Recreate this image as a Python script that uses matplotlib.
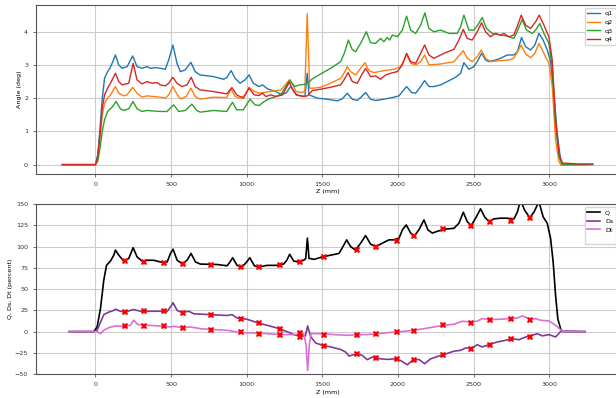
import matplotlib
matplotlib.use("Agg")
import matplotlib.pyplot as plt

# ---------------- top panel: angles (deg) ----------------
q1_z = [-220, -100, 0, 15, 30, 45, 60, 80, 95, 110,
        132, 154, 176, 209, 246, 275, 308, 341, 363, 396,
        429, 462, 484, 512, 539, 561, 593, 631, 659, 692,
        780, 846, 868, 897, 923, 956, 989, 1015, 1044, 1082,
        1104, 1138, 1182, 1227, 1260, 1290, 1330, 1385, 1400, 1412,
        1467, 1533, 1599, 1632, 1665, 1698, 1731, 1760, 1786, 1819,
        1852, 1907, 1963, 2007, 2030, 2057, 2090, 2117, 2150, 2176,
        2205, 2238, 2282, 2326, 2381, 2414, 2436, 2469, 2502, 2524,
        2553, 2579, 2601, 2645, 2678, 2722, 2766, 2790, 2817, 2844,
        2877, 2905, 2932, 2960, 2987, 3009, 3031, 3053, 3075, 3090,
        3180, 3285]
q1_v = [0.0, 0.0, 0.0, 0.3, 1.1, 2.0, 2.6, 2.8, 2.9, 3.05,
        3.3, 3.0, 2.9, 2.95, 3.27, 2.95, 2.9, 2.95, 2.9, 2.92,
        2.9, 2.87, 3.15, 3.6, 3.05, 2.8, 2.85, 3.08, 2.8, 2.7,
        2.65, 2.57, 2.62, 2.83, 2.6, 2.45, 2.55, 2.7, 2.45, 2.35,
        2.4, 2.28, 2.22, 2.12, 2.15, 2.35, 2.1, 2.05, 2.75, 2.1,
        2.0, 1.97, 1.92, 1.98, 2.15, 1.97, 1.93, 2.05, 2.17, 1.97,
        1.93, 1.97, 2.02, 2.07, 2.2, 2.35, 2.17, 2.15, 2.35, 2.53,
        2.35, 2.35, 2.4, 2.5, 2.63, 2.75, 3.07, 2.87, 2.95, 3.1,
        3.35, 3.15, 3.1, 3.15, 3.2, 3.3, 3.3, 3.4, 3.83, 3.55,
        3.45, 3.6, 3.95, 3.75, 3.45, 3.1, 2.15, 0.95, 0.15, 0.0,
        0.0, 0.0]

q2_z = [-220, -100, 0, 15, 30, 45, 60, 80, 99, 132,
        154, 187, 209, 246, 275, 308, 341, 429, 462, 484,
        512, 539, 561, 600, 631, 659, 692, 780, 868, 897,
        923, 956, 989, 1015, 1044, 1082, 1127, 1182, 1227, 1255,
        1282, 1305, 1327, 1360, 1384, 1400, 1416, 1440, 1489, 1555,
        1621, 1643, 1665, 1687, 1720, 1753, 1782, 1808, 1841, 1907,
        1973, 2018, 2057, 2084, 2117, 2150, 2176, 2205, 2282, 2370,
        2403, 2432, 2458, 2491, 2524, 2551, 2579, 2612, 2678, 2733,
        2766, 2815, 2844, 2877, 2905, 2932, 2965, 2998, 3020, 3042,
        3064, 3079, 3150, 3220]
q2_v = [0.0, 0.0, 0.0, 0.2, 0.8, 1.5, 1.85, 2.0, 2.1, 2.35,
        2.15, 2.07, 2.1, 2.33, 2.15, 2.03, 2.07, 2.03, 2.0, 2.1,
        2.35, 2.12, 1.98, 2.05, 2.3, 2.05, 1.97, 2.03, 2.02, 2.28,
        2.05, 2.0, 2.1, 2.33, 2.22, 2.15, 2.18, 2.22, 2.25, 2.4,
        2.55, 2.4, 2.2, 2.17, 2.2, 4.55, 2.3, 2.3, 2.33, 2.45,
        2.6, 2.75, 2.95, 2.8, 2.7, 2.9, 3.07, 2.83, 2.77, 2.83,
        2.87, 2.95, 3.32, 3.05, 3.0, 3.1, 3.3, 3.0, 3.03, 3.1,
        3.27, 3.43, 3.2, 3.1, 3.25, 3.45, 3.2, 3.1, 3.13, 3.15,
        3.2, 3.6, 3.33, 3.22, 3.35, 3.65, 3.35, 3.05, 2.35, 0.75,
        0.1, -0.02, 0.0, 0.0]

q3_z = [-220, -100, 0, 15, 30, 45, 60, 80, 110, 136,
        165, 187, 220, 248, 275, 308, 341, 429, 473, 517,
        550, 594, 637, 670, 692, 780, 868, 906, 934, 978,
        1022, 1055, 1082, 1116, 1149, 1193, 1227, 1255, 1285, 1316,
        1349, 1393, 1434, 1489, 1555, 1621, 1645, 1672, 1697, 1720,
        1753, 1791, 1819, 1852, 1885, 1907, 1929, 1946, 1963, 1996,
        2029, 2057, 2084, 2117, 2150, 2178, 2205, 2238, 2282, 2337,
        2392, 2414, 2436, 2469, 2502, 2528, 2557, 2585, 2623, 2678,
        2722, 2766, 2788, 2821, 2850, 2888, 2910, 2938, 2965, 2998,
        3020, 3042, 3064, 3086, 3170, 3251]
q3_v = [0.0, 0.0, 0.0, 0.1, 0.5, 1.0, 1.35, 1.6, 1.73, 1.9,
        1.68, 1.63, 1.68, 1.9, 1.68, 1.6, 1.63, 1.6, 1.6, 1.8,
        1.6, 1.63, 1.82, 1.63, 1.58, 1.63, 1.6, 1.88, 1.65, 1.65,
        1.97, 1.8, 1.78, 1.9, 1.98, 2.05, 2.12, 2.32, 2.55, 2.35,
        2.4, 2.42, 2.58, 2.73, 2.9, 3.1, 3.35, 3.75, 3.47, 3.4,
        3.65, 4.0, 3.67, 3.65, 3.8, 3.7, 3.83, 3.75, 3.9, 3.85,
        4.05, 4.47, 4.05, 3.95, 4.2, 4.57, 4.1, 4.0, 4.05, 3.95,
        3.95, 4.15, 4.5, 4.05, 4.05, 4.2, 4.43, 4.1, 3.95, 3.9,
        3.87, 3.8, 4.0, 4.37, 4.05, 3.95, 4.05, 4.25, 3.95, 3.65,
        2.95, 1.25, 0.25, 0.0, 0.0, 0.0]

q4_z = [-220, -100, 0, 15, 30, 45, 60, 80, 99, 132,
        154, 176, 220, 249, 275, 308, 341, 374, 407, 429,
        462, 484, 512, 539, 572, 605, 633, 659, 692, 780,
        868, 902, 934, 978, 1015, 1049, 1082, 1104, 1127, 1160,
        1193, 1238, 1260, 1282, 1305, 1327, 1371, 1401, 1434, 1489,
        1555, 1621, 1643, 1670, 1698, 1731, 1760, 1786, 1819, 1852,
        1885, 1918, 1951, 1996, 2029, 2057, 2084, 2117, 2150, 2176,
        2205, 2238, 2304, 2370, 2403, 2432, 2458, 2491, 2524, 2553,
        2579, 2612, 2645, 2678, 2700, 2733, 2766, 2788, 2815, 2844,
        2877, 2910, 2934, 2965, 2998, 3020, 3042, 3064, 3086, 3190,
        3290]
q4_v = [0.0, 0.0, 0.0, 0.25, 0.9, 1.7, 2.1, 2.3, 2.45, 2.75,
        2.5, 2.4, 2.45, 3.05, 2.55, 2.43, 2.5, 2.45, 2.47, 2.4,
        2.37, 2.45, 2.63, 2.45, 2.35, 2.4, 2.63, 2.35, 2.25, 2.2,
        2.13, 2.32, 2.1, 2.0, 2.3, 2.1, 2.08, 2.15, 2.05, 2.1,
        2.05, 2.1, 2.3, 2.48, 2.25, 2.1, 2.05, 2.07, 2.23, 2.27,
        2.33, 2.4, 2.55, 2.77, 2.5, 2.45, 2.7, 2.9, 2.65, 2.67,
        2.57, 2.7, 2.75, 2.8, 3.0, 3.35, 3.1, 3.05, 3.35, 3.6,
        3.3, 3.2, 3.35, 3.47, 3.75, 4.07, 3.8, 3.75, 4.0, 4.27,
        4.0, 3.85, 3.95, 3.9, 3.95, 3.85, 3.9, 4.15, 4.5, 4.2,
        4.1, 4.3, 4.5, 4.2, 3.85, 3.15, 1.35, 0.35, 0.05, 0.02,
        0.02]

# ---------------- bottom panel: Q, Ds, Dt (percent) ----------------
Q_z = [-172, -100, -11, 11, 33, 55, 73, 99, 121, 132,
       154, 187, 220, 249, 275, 308, 341, 385, 429, 474,
       496, 513, 540, 573, 606, 632, 661, 694, 804, 870,
       890, 907, 936, 969, 1000, 1020, 1051, 1079, 1134, 1200,
       1244, 1265, 1284, 1311, 1344, 1377, 1390, 1401, 1412, 1423,
       1445, 1500, 1555, 1610, 1636, 1661, 1687, 1720, 1753, 1786,
       1819, 1852, 1896, 1940, 1974, 2007, 2030, 2055, 2084, 2106,
       2139, 2172, 2198, 2227, 2260, 2304, 2370, 2403, 2432, 2458,
       2484, 2515, 2546, 2573, 2601, 2634, 2678, 2722, 2767, 2790,
       2811, 2837, 2872, 2900, 2932, 2960, 2987, 3009, 3026, 3042,
       3057, 3075, 3086, 3236]
Q_v = [0, 0, 0, 5.5, 27, 60.6, 78, 83, 90, 96,
       90, 83, 86, 98.8, 88, 83, 84, 84, 82, 82,
       92, 97, 84, 80, 84, 92, 82, 79.5, 79, 77.5,
       82, 87, 78, 76, 82, 87, 77.5, 76, 78, 78,
       79.5, 84, 91, 83, 82, 84, 86, 110, 86, 86,
       85, 88, 90, 92, 100, 108, 100, 96, 104, 113,
       103, 100, 104, 108, 108, 110, 120, 125.6, 116, 112,
       120, 131.5, 119.7, 116, 118, 120.5, 121.6, 127.5, 140.5, 129.5,
       124.8, 134, 144.5, 135, 129.5, 132.7, 133.5, 133.5, 132.7, 141,
       155, 143, 134, 141, 153, 135, 127.5, 110, 82, 43,
       15, 3.5, 0.4, 0]

Ds_z = [-172, -11, 11, 33, 55, 88, 121, 132, 165, 198,
        231, 253, 297, 385, 474, 496, 513, 540, 573, 617,
        650, 760, 870, 903, 936, 1002, 1046, 1079, 1134, 1200,
        1267, 1311, 1355, 1388, 1403, 1423, 1456, 1500, 1555, 1621,
        1654, 1676, 1709, 1731, 1764, 1797, 1830, 1852, 1885, 1930,
        1974, 2018, 2062, 2095, 2139, 2176, 2216, 2271, 2304, 2370,
        2414, 2447, 2491, 2524, 2557, 2601, 2656, 2711, 2755, 2800,
        2844, 2888, 2921, 2954, 2998, 3042, 3075, 3236]
Ds_v = [0, 0, 1.6, 11, 20, 23, 25, 26.4, 24, 23,
        25, 26, 24, 24, 24, 29, 34, 25, 22.4, 24,
        21, 20, 19, 20, 16, 14.6, 12, 10, 7.5, 4.3,
        0, -3.5, -5.5, -5, 6.7, -6, -13.4, -16, -18, -21,
        -24, -28.7, -27, -26, -28, -33, -30, -30.7, -32, -32.7,
        -32, -34, -39, -34, -32.7, -37.8, -32, -28.7, -27, -23,
        -22, -19.3, -19.3, -15.4, -18, -15.4, -12.2, -10.2, -8.3, -9.5,
        -6.3, -4.3, -2.4, -5, -3.5, -6.3, 0, 0]

Dt_z = [-172, -11, 11, 33, 55, 88, 132, 187, 231, 253,
        280, 341, 429, 496, 518, 573, 628, 694, 782, 870,
        958, 1046, 1134, 1222, 1311, 1377, 1392, 1403, 1414, 1425,
        1500, 1577, 1665, 1731, 1797, 1863, 1930, 1996, 2040, 2106,
        2172, 2238, 2304, 2370, 2425, 2480, 2524, 2557, 2612, 2678,
        2744, 2788, 2822, 2877, 2910, 2943, 2998, 3042, 3086, 3236]
Dt_v = [0, 0, 0, -2.4, 1.6, 4.7, 6.7, 6.3, 7.5, 13.4,
        8.3, 7.5, 6.7, 5.5, 6.3, 4.7, 5.5, 3.5, 2.4, 1.6,
        -1.2, -1.6, -2.4, -3.5, -3.5, -2.4, -15, -45.7, -15, -2.4,
        -2.4, -3.5, -4.3, -3.5, -3.5, -2.4, -1.2, -0.4, 0.4, 1.6,
        3.5, 5.5, 7.5, 8.7, 12.2, 11.4, 12.2, 15.4, 14.2, 14.6,
        15.4, 16, 18.5, 14.6, 15.4, 13.4, 12.6, 7.5, 0.4, 0]

# sampled stations (red crosses)
mark_z = [192, 319, 452, 577, 764, 963, 1079, 1222, 1355, 1511,
          1727, 1852, 1996, 2106, 2300, 2484, 2606, 2749, 2872]
mark_Q = [83.5, 82, 81, 80, 79, 76, 75.6, 78, 81.5, 88,
          96, 100, 107, 112, 120.5, 124.8, 129.5, 130.7, 134]
mark_Ds = [23.2, 24, 24, 22.4, 20, 14.6, 10.2, 3.5, -6.3, -17,
           -26, -30.7, -32.7, -33, -28, -20, -15.4, -9, -6.3]
mark_Dt = [6.7, 6.3, 6.3, 4.7, 2.4, -0.8, -2.4, -3.5, -1.2, -3.5,
           -3.5, -2.4, -0.8, 0.8, 7.5, 10.6, 13.4, 14.6, 13.4]

xticks = [0, 500, 1000, 1500, 2000, 2500, 3000]
top_yticks = [0, 1, 2, 3, 4]
bot_yticks = [-50, -25, 0, 25, 50, 75, 100, 125, 150]

FS = 4.6
plt.rcParams['font.family'] = ['DejaVu Sans']
plt.rcParams['font.size'] = FS
plt.rcParams['lines.solid_joinstyle'] = 'round'

fig = plt.figure(figsize=(6.16, 3.98), dpi=100)
ax1 = fig.add_axes([0.058, 0.563, 0.947, 0.424])
ax2 = fig.add_axes([0.058, 0.060, 0.947, 0.427])

lw = 1.0
ax1.plot(q1_z, q1_v, color='#1f77b4', lw=lw, label='q1')
ax1.plot(q2_z, q2_v, color='#ff7f0e', lw=lw, label='q2')
ax1.plot(q3_z, q3_v, color='#2ca02c', lw=lw, label='q3')
ax1.plot(q4_z, q4_v, color='#d62728', lw=lw, label='q4')
ax1.set_ylabel('Angle (deg)', fontsize=FS, labelpad=1.5)
ax1.set_xlabel('Z (mm)', fontsize=FS, labelpad=2)
ax1.set_yticks(top_yticks)
ax1.set_ylim(-0.28, 4.8)
ax1.legend(loc='upper right', fontsize=FS, framealpha=0.8, edgecolor='#cccccc')

ax2.plot(Q_z, Q_v, color='black', lw=1.2, label='Q')
ax2.plot(Ds_z, Ds_v, color='#7d3c98', lw=1.2, label='Ds')
ax2.plot(Dt_z, Dt_v, color='orchid', lw=1.2, label='Dt')
ax2.plot([], [], ' ', label=' ')
ax2.plot(mark_z, mark_Q, 'X', color='red', ms=5, mew=0, zorder=5)
ax2.plot(mark_z, mark_Ds, 'X', color='red', ms=5, mew=0, zorder=5)
ax2.plot(mark_z, mark_Dt, 'X', color='red', ms=5, mew=0, zorder=5)
ax2.set_ylabel('Q, Ds, Dt (percent)', fontsize=FS, labelpad=1.5)
ax2.set_xlabel('Z (mm)', fontsize=FS, labelpad=2)
ax2.set_yticks(bot_yticks)
ax2.set_ylim(-50, 150)
ax2.legend(loc='upper right', fontsize=FS, framealpha=0.8, edgecolor='#cccccc')

for ax in (ax1, ax2):
    ax.set_xlim(-395, 3462)
    ax.set_xticks(xticks)
    ax.grid(True, color='#cccccc', lw=0.8)
    ax.set_axisbelow(True)
    ax.tick_params(labelsize=FS, length=2, width=0.5, colors='#333333')
    for s in ax.spines.values():
        s.set_color('#555555')
        s.set_linewidth(0.8)

fig.savefig('out.png', dpi=100)
